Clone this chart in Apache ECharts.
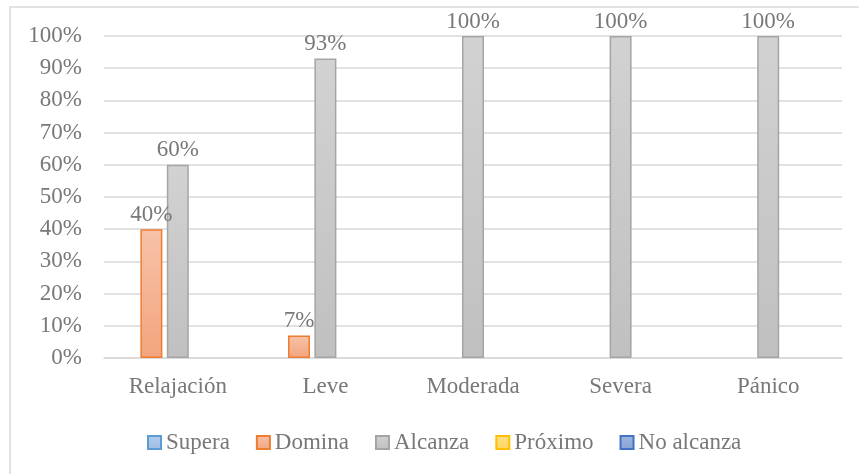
<!DOCTYPE html>
<html>
<head>
<meta charset="utf-8">
<script src="https://cdn.jsdelivr.net/npm/echarts@6/dist/echarts.min.js"></script>
<style>
  html, body { margin: 0; padding: 0; background: #fff; }
  #chart { width: 859px; height: 474px; }
</style>
</head>
<body>
<div id="chart"></div>
<script>
// categorías del eje x
const categorias = ["Relajación", "Leve", "Moderada", "Severa", "Pánico"];
// porcentajes por nivel
const supera = [0, 0, 0, 0, 0];
const domina = [40, 7, 0, 0, 0];
const alcanza = [60, 93, 100, 100, 100];
const proximo = [0, 0, 0, 0, 0];
const noAlcanza = [0, 0, 0, 0, 0];
// marcas del eje y
const yMin = 0;
const yMax = 100;
const yPaso = 10;

const fuente = "Liberation Serif";
const gris = "#787878";

const grad = (arriba, abajo) =>
  new echarts.graphic.LinearGradient(0, 0, 0, 1, [
    { offset: 0, color: arriba },
    { offset: 1, color: abajo },
  ]);

// serie de barras; los ceros no llevan borde
const serie = (nombre, datos, relleno, borde) => ({
  name: nombre,
  type: "bar",
  barWidth: 22,
  barGap: "20%",
  itemStyle: { color: relleno, borderColor: borde, borderWidth: 1.5 },
  label: {
    show: true,
    position: "top",
    distance: 3,
    color: gris,
    fontFamily: fuente,
    fontSize: 23,
    formatter: (p) => (p.value === 0 ? "" : p.value + "%"),
  },
  data: datos.map((v) => (v === 0 ? { value: v, itemStyle: { borderWidth: 0 } } : v)),
});

const myChart = echarts.init(document.getElementById("chart"));
const option = {
  backgroundColor: "#fff",
  animation: false,
  graphic: [
    {
      type: "rect",
      shape: { x: 10, y: 7, width: 900, height: 500 },
      style: { fill: "none", stroke: "#d9d9d9", lineWidth: 1.5 },
    },
  ],
  grid: { left: 104, right: 17, top: 36, bottom: 116 },
  legend: {
    left: 142,
    top: 426,
    itemWidth: 13,
    itemHeight: 13,
    itemGap: 26,
    icon: "rect",
    textStyle: { color: gris, fontFamily: fuente, fontSize: 23 },
    data: ["Supera", "Domina", "Alcanza", "Próximo", "No alcanza"],
  },
  xAxis: {
    type: "category",
    data: categorias,
    axisTick: { show: false },
    axisLine: { lineStyle: { color: "#d9d9d9", width: 1.5 } },
    axisLabel: { color: gris, fontFamily: fuente, fontSize: 23, margin: 17 },
  },
  yAxis: {
    type: "value",
    min: yMin,
    max: yMax,
    interval: yPaso,
    axisLine: { show: false },
    axisTick: { show: false },
    splitLine: { lineStyle: { color: "#d9d9d9", width: 1.5 } },
    axisLabel: {
      color: gris,
      fontFamily: fuente,
      fontSize: 23,
      margin: 22,
      formatter: "{value}%",
    },
  },
  series: [
    serie("Supera", supera, grad("#b4cdee", "#9dbbe3"), "#5b9bd5"),
    serie("Domina", domina, grad("#f7c2a8", "#f3a47d"), "#ed7d31"),
    serie("Alcanza", alcanza, grad("#d2d2d2", "#c0c0c0"), "#a5a5a5"),
    serie("Próximo", proximo, grad("#ffe08a", "#ffd45c"), "#ffc000"),
    serie("No alcanza", noAlcanza, grad("#9fb5e0", "#8aa3d6"), "#4472c4"),
  ],
};

option && myChart.setOption(option);
</script>
</body>
</html>
